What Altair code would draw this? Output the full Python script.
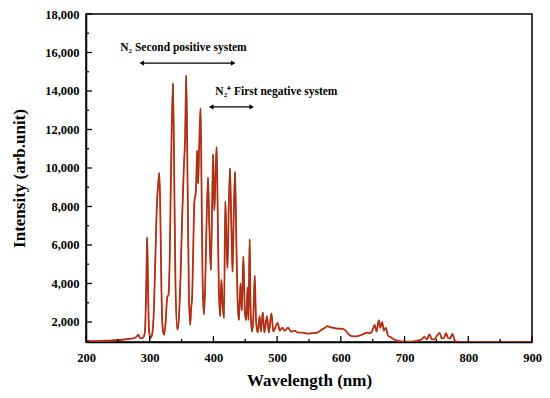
import altair as alt
import pandas as pd

wavelength = [200, 215, 230, 245, 260, 270, 277, 280, 282, 284, 287, 290, 292.5, 294.5, 296, 297.5, 299, 301.5,
              304, 306.5, 309, 311.5, 313, 315, 316.5, 318.5, 320.5, 322.5, 325, 327.5, 329.5, 331.5, 333.5,
              336.5, 338.5, 340.5, 343.5, 346, 348.5, 351, 353.5, 355.5, 357.3, 359.5, 361.5, 363.5, 365,
              366.5, 368, 370, 372.5, 374.5, 376, 377.8, 379.8, 381.5, 383, 385, 387, 389, 391.5, 393.5,
              396, 398, 399.5, 401.5, 403, 405, 406.8, 408.5, 410.5, 412.5, 414.5, 416.5, 418.7, 420.5,
              422, 424, 426, 428, 430, 432, 434, 435.8, 437.8, 440, 442.5, 444.5, 447, 449.5, 451.5, 453.5,
              455, 456.8, 458.5, 460.5, 462.5, 464.8, 467, 469.5, 472.5, 474.5, 477.5, 480, 484, 487, 491,
              494, 497.5, 501, 504, 508, 512, 517, 522, 527, 533, 540, 548, 555, 563, 570, 575, 579, 584,
              589, 594, 600, 606, 611, 617, 624, 630, 636, 641, 646, 650, 653, 656, 659.5, 662, 664.8,
              667.5, 670.5, 674, 678, 683, 690, 700, 712, 722, 727, 731, 735, 739, 743, 747, 751, 755,
              758.5, 761.5, 765, 768.5, 771.5, 775, 779, 785, 800, 830, 860, 900]
intensity = [1000, 1010, 1030, 1050, 1090, 1130, 1180, 1260, 1340, 1200, 1150, 1200, 1500, 3800, 6400, 3500,
             1500, 1180, 1400, 2600, 5500, 8300, 9000, 9750, 8000, 3500, 1600, 1330, 2000, 3300, 3400,
             5500, 10000, 14400, 9500, 3800, 1600, 2300, 4500, 7500, 10000, 11500, 14800, 9000, 3500,
             1850, 2700, 3250, 5300, 8200, 8800, 10900, 9200, 11300, 13100, 8500, 4200, 2400, 3800, 6800,
             9500, 7000, 4700, 8200, 10700, 7800, 9300, 11100, 7500, 3800, 2300, 4200, 2900, 2200, 8250,
             6200, 4800, 7800, 9980, 7200, 4600, 7800, 9800, 6500, 3300, 2100, 4000, 2600, 5400, 2400,
             2100, 3800, 2100, 6300, 2500, 1500, 2100, 4400, 2000, 1450, 2300, 1500, 2500, 1450, 2300,
             1450, 2450, 1500, 1750, 1950, 1550, 1700, 1550, 1700, 1500, 1550, 1450, 1450, 1400, 1420,
             1450, 1600, 1700, 1780, 1720, 1700, 1650, 1650, 1600, 1400, 1270, 1250, 1300, 1380, 1450,
             1420, 1600, 1850, 1500, 2100, 1700, 2000, 1550, 1700, 1300, 1220, 1100, 1020, 980, 980,
             1040, 1100, 1230, 1100, 1350, 1100, 1100, 1300, 1430, 1150, 1150, 1420, 1150, 1150, 1380,
             1020, 960, 960, 965, 960, 970]

x_major = [200, 300, 400, 500, 600, 700, 800, 900]
x_minor = [250, 350, 450, 550, 650, 750, 850]
y_major = [2000, 4000, 6000, 8000, 10000, 12000, 14000, 16000, 18000]
y_minor = [1000, 3000, 5000, 7000, 9000, 11000, 13000, 15000, 17000]

ann_text = ["N\u2082 Second positive system", "N\u2082\u207a First negative system"]
ann_text_x = [353, 403]
ann_text_y = [16230, 13950]
arrow_x1 = [287.5, 396.5]
arrow_x2 = [431, 460]
arrow_y = [15450, 13170]

W, H = 446, 328
FONT = "Liberation Serif"
xs = alt.Scale(domain=[200, 900], nice=False, zero=False)
ys = alt.Scale(domain=[960, 18000], nice=False, zero=False)

df = pd.DataFrame({"wl": wavelength, "val": intensity})

x_axis = alt.Axis(title="Wavelength (nm)", values=x_major, ticks=False, grid=False, labelPadding=9,
                  labelFlush=False, format="d", titlePadding=9)
y_axis = alt.Axis(title="Intensity (arb.unit)", values=y_major, ticks=False, grid=False, labelPadding=7,
                  labelFlush=False, format=",d", titlePadding=16)


def X(field):
    return alt.X(field, scale=xs, axis=x_axis, title="Wavelength (nm)")


def Y(field):
    return alt.Y(field, scale=ys, axis=y_axis, title="Intensity (arb.unit)")


red = alt.Chart(df).mark_line(color="#E5261C", strokeWidth=1.8, interpolate="monotone", clip=True).encode(
    x=X("wl:Q"), y=Y("val:Q"))
brown = alt.Chart(df).mark_line(color="#8E3C16", strokeWidth=1.0, interpolate="monotone", clip=True).encode(
    x=X("wl:Q"), y=Y("val:Q"))

xmaj = alt.Chart(pd.DataFrame({"t": x_major})).mark_rule(color="black", strokeWidth=1.3).encode(
    x=X("t:Q"), y=alt.value(H), y2=alt.value(H - 6))
xmin = alt.Chart(pd.DataFrame({"t": x_minor})).mark_rule(color="black", strokeWidth=1.3).encode(
    x=X("t:Q"), y=alt.value(H), y2=alt.value(H - 3))
ymaj = alt.Chart(pd.DataFrame({"t": y_major})).mark_rule(color="black", strokeWidth=1.3).encode(
    y=Y("t:Q"), x=alt.value(0), x2=alt.value(6))
ymin = alt.Chart(pd.DataFrame({"t": y_minor})).mark_rule(color="black", strokeWidth=1.3).encode(
    y=Y("t:Q"), x=alt.value(0), x2=alt.value(3))

arr = pd.DataFrame({"x1": arrow_x1, "x2": arrow_x2, "y": arrow_y})
arrows = alt.Chart(arr).mark_rule(color="black", strokeWidth=1.2).encode(
    x=X("x1:Q"), x2="x2:Q", y=Y("y:Q"))
head_l = alt.Chart(arr).mark_point(shape="triangle-left", filled=True, color="black", size=28, opacity=1).encode(
    x=X("x1:Q"), y=Y("y:Q"))
head_r = alt.Chart(arr).mark_point(shape="triangle-right", filled=True, color="black", size=28, opacity=1).encode(
    x=X("x2:Q"), y=Y("y:Q"))

ann = pd.DataFrame({"txt": ann_text, "x": ann_text_x, "y": ann_text_y})
t1 = alt.Chart(ann.iloc[[0]]).mark_text(font=FONT, fontWeight="bold", fontSize=11.5, align="center",
                                        baseline="middle", color="black").encode(
    x=X("x:Q"), y=Y("y:Q"), text="txt:N")
t2 = alt.Chart(ann.iloc[[1]]).mark_text(font=FONT, fontWeight="bold", fontSize=11.5, align="left",
                                        baseline="middle", color="black").encode(
    x=X("x:Q"), y=Y("y:Q"), text="txt:N")

chart = alt.layer(red, brown, xmaj, xmin, ymaj, ymin, arrows, head_l, head_r, t1, t2).properties(
    width=W, height=H,
    padding={"left": 78, "top": 6, "right": 10, "bottom": 48},
    autosize=alt.AutoSizeParams(type="none"),
).configure_view(stroke="black", strokeWidth=1.5).configure_axis(
    domainColor="black", domainWidth=1.5,
    labelFont=FONT, labelFontWeight="bold", labelFontSize=12.5, labelColor="black",
    titleFont=FONT, titleFontWeight="bold", titleFontSize=17, titleColor="black",
)

chart.save("out.html", embed_options={"renderer": "svg", "actions": False})
